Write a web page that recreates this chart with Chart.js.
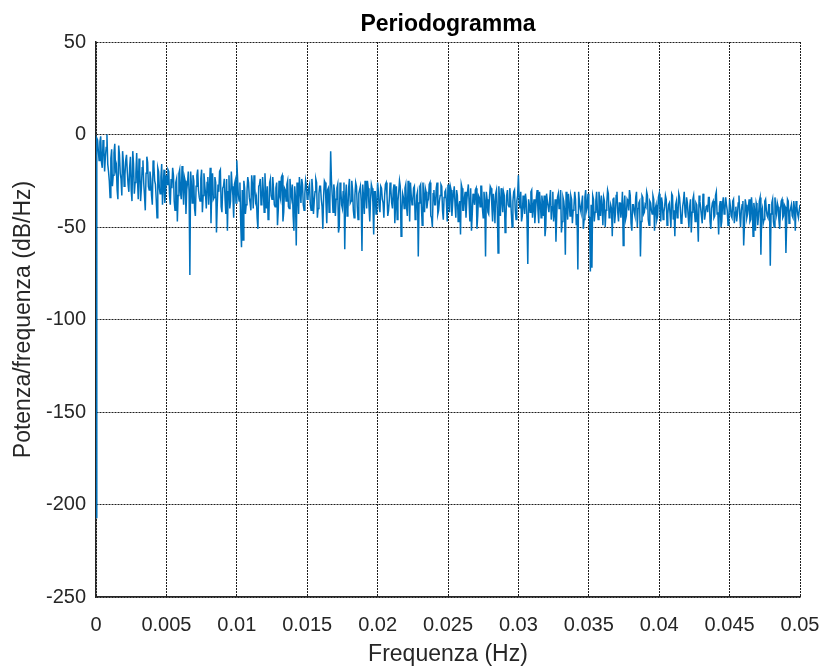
<!DOCTYPE html>
<html lang="it">
<head>
<meta charset="UTF-8">
<title>Periodogramma</title>
<style>
  html, body { margin: 0; padding: 0; background: #fff; }
  #chart { display: block; }
</style>
</head>
<body>
<canvas id="chart" width="822" height="668"></canvas>
<script src="https://cdn.jsdelivr.net/npm/chart.js"></script>
<script>
// frequency bin width (Hz); bin k is at k * df
const df = 0.05 / 900

// power spectral density (dB/Hz), one block per 0.005 Hz
// even bins (0, 2, 4, ...)
const psd0 = [-207, -3, -14, -1, -18, -6, -12, 0, -20, -34, -8, -22, -5, -17, -35, -11, -24, -9, -28, -14, -20, -31, -12, -36, -16, -26, -10, -35, -19, -29, -14, -33, -21, -15, -30, -24, -38, -17, -27, -45, -20, -32, -16, -28, -37, -22]
const psd1 = [-19, -33, -24, -18, -36, -26, -47, -21, -31, -17, -38, -25, -30, -20, -76, -27, -22, -40, -28, -19, -34, -24, -42, -21, -32, -26, -38, -18, -30, -35, -23, -53, -27, -20, -39, -29, -24, -43, -52, -22, -36, -28, -45, -25, -14]
const psd2 = [-33, -26, -61, -57, -29, -38, -23, -34, -41, -27, -22, -36, -45, -28, -24, -37, -31, -21, -40, -46, -26, -33, -23, -38, -29, -49, -25, -35, -22, -42, -30, -27, -39, -24, -34, -44, -28, -60, -32, -23, -37, -27, -41, -25, -35]
const psd3 = [-29, -38, -24, -43, -31, -26, -40, -28, -35, -51, -25, -37, -30, -42, -9, -33, -27, -44, -29, -53, -26, -38, -31, -62, -27, -41, -24, -36, -30, -45, -26, -39, -32, -28, -63, -34, -25, -40, -29, -47, -27, -37, -31, -43, -26]
const psd4 = [-39, -28, -35, -45, -27, -33, -41, -26, -37, -30, -48, -28, -36, -25, -55, -32, -40, -27, -44, -31, -26, -38, -29, -46, -33, -66, -28, -39, -26, -42, -31, -36, -27, -44, -50, -30, -38, -26, -41, -33, -28, -46, -31, -37, -27]
const psd5 = [-42, -30, -37, -28, -45, -33, -39, -54, -29, -41, -31, -36, -27, -47, -52, -32, -38, -29, -44, -34, -28, -40, -31, -66, -35, -43, -28, -38, -32, -48, -30, -64, -36, -29, -42, -33, -46, -30, -39, -34, -50, -31, -41, -36, -22]
const psd6 = [-40, -47, -33, -43, -36, -70, -38, -31, -45, -35, -41, -30, -48, -37, -33, -44, -55, -32, -39, -35, -46, -31, -42, -58, -34, -40, -30, -47, -36, -65, -38, -32, -44, -35, -41, -31, -49, -73, -36, -42, -33, -46, -30, -39, -44]
const psd7 = [-74, -72, -35, -42, -31, -46, -37, -33, -49, -36, -41, -30, -45, -38, -55, -34, -43, -31, -47, -37, -40, -60, -33, -44, -36, -30, -48, -38, -42, -34, -50, -37, -66, -33, -43, -38, -31, -46, -36, -41, -33, -52, -38, -44, -32]
const psd8 = [-47, -37, -42, -33, -49, -38, -44, -32, -46, -55, -36, -43, -34, -48, -39, -31, -45, -37, -50, -35, -42, -33, -47, -38, -58, -36, -44, -32, -46, -39, -42, -34, -51, -37, -45, -33, -43, -54, -36, -47, -34, -41, -38, -49, -35]
const psd9 = [-44, -36, -48, -39, -43, -33, -50, -38, -60, -35, -45, -39, -47, -34, -55, -41, -37, -49, -36, -65, -40, -46, -35, -44, -38, -71, -37, -47, -34, -43, -39, -51, -36, -45, -38, -64, -35, -48, -40, -44, -36, -52, -39, -45, -38]
// odd bins (1, 3, 5, ...)
const odd0 = [-2, -9, -4, -15, -3, -20, -7, -16, -25, -13, -28, -10, -19, -30, -6, -21, -33, -15, -22, -11, -27, -18, -30, -9, -32, -21, -24, -13, -36, -18, -26, -41, -12, -28, -20, -33, -14, -25, -35, -18, -29, -23, -38, -19, -31]
const odd1 = [-27, -20, -38, -29, -22, -41, -24, -33, -19, -35, -28, -23, -43, -26, -31, -20, -37, -25, -44, -22, -30, -36, -19, -33, -27, -40, -23, -29, -48, -21, -34, -26, -38, -31, -19, -42, -28, -35, -24, -31, -40, -20, -33, -27, -37]
const odd2 = [-24, -36, -48, -30, -25, -43, -31, -26, -37, -22, -40, -29, -34, -51, -27, -38, -23, -42, -32, -28, -45, -24, -35, -30, -39, -26, -41, -33, -23, -47, -29, -36, -25, -40, -31, -27, -52, -34, -26, -43, -30, -24, -38, -32, -28]
const odd3 = [-34, -27, -41, -30, -36, -24, -45, -32, -28, -39, -33, -26, -48, -29, -37, -25, -42, -31, -35, -27, -50, -30, -40, -26, -34, -44, -29, -37, -25, -41, -33, -28, -46, -30, -36, -27, -43, -32, -25, -39, -35, -29, -54, -31, -38]
const odd4 = [-31, -42, -29, -37, -33, -26, -44, -35, -30, -40, -27, -38, -46, -31, -28, -42, -34, -29, -39, -25, -47, -33, -36, -28, -43, -31, -37, -27, -49, -33, -29, -40, -35, -26, -45, -32, -38, -29, -43, -36, -27, -41, -34, -30, -47]
const odd5 = [-35, -28, -44, -32, -38, -30, -47, -36, -27, -41, -34, -45, -31, -37, -29, -43, -35, -30, -51, -33, -39, -28, -45, -36, -31, -42, -34, -29, -47, -37, -32, -40, -28, -44, -35, -31, -53, -33, -38, -29, -43, -36, -30, -46, -33]
const odd6 = [-36, -31, -44, -38, -32, -46, -35, -42, -30, -39, -48, -34, -41, -31, -45, -37, -33, -50, -36, -42, -30, -39, -47, -35, -43, -32, -38, -53, -34, -41, -31, -46, -37, -33, -48, -39, -35, -43, -31, -40, -37, -51, -34, -41, -32]
const odd7 = [-45, -38, -33, -47, -36, -41, -31, -44, -39, -34, -50, -37, -32, -43, -40, -35, -48, -33, -42, -37, -45, -31, -39, -46, -35, -41, -33, -52, -38, -44, -31, -40, -36, -47, -34, -42, -39, -33, -49, -37, -43, -35, -40, -46, -34]
const odd8 = [-41, -34, -46, -39, -35, -43, -37, -50, -33, -41, -38, -45, -32, -40, -47, -36, -42, -34, -44, -39, -53, -35, -41, -37, -46, -33, -40, -48, -36, -43, -38, -34, -47, -40, -36, -44, -31, -42, -39, -50, -37, -43, -34, -41, -46]
const odd9 = [-39, -45, -35, -42, -47, -37, -44, -41, -36, -49, -38, -43, -35, -46, -40, -37, -52, -39, -44, -34, -42, -48, -36, -41, -45, -38, -43, -35, -50, -40, -37, -46, -41, -35, -44, -39, -47, -36, -42, -38, -45, -40, -36, -43, -41]

const evenBins = [].concat(psd0, psd1, psd2, psd3, psd4, psd5, psd6, psd7, psd8, psd9)
const oddBins = [].concat(odd0, odd1, odd2, odd3, odd4, odd5, odd6, odd7, odd8, odd9)

const points = []
evenBins.forEach((v, i) => {
  points.push({ x: 2 * i * df, y: v })
  if (i < oddBins.length) points.push({ x: (2 * i + 1) * df, y: oddBins[i] })
})

const FONT = '"Liberation Sans", Arial, Helvetica, sans-serif'
const INK = '#262626'

const titlePlugin = {
  id: 'matlabTitle',
  afterDraw(chart) {
    const { ctx, chartArea } = chart
    ctx.save()
    ctx.fillStyle = '#000'
    ctx.font = 'bold 23px ' + FONT
    ctx.textAlign = 'center'
    ctx.textBaseline = 'alphabetic'
    ctx.fillText('Periodogramma', (chartArea.left + chartArea.right) / 2, 31)
    ctx.restore()
  }
}

new Chart(document.getElementById('chart'), {
  type: 'line',
  data: {
    datasets: [{
      data: points,
      borderColor: '#0072BD',
      borderWidth: 1.5,
      pointRadius: 0,
      tension: 0,
      fill: false
    }]
  },
  options: {
    responsive: false,
    animation: false,
    events: [],
    layout: { padding: { top: 42, right: 22, bottom: 0, left: 0 } },
    plugins: { legend: { display: false }, tooltip: { enabled: false } },
    scales: {
      x: {
        type: 'linear',
        min: 0,
        max: 0.05,
        afterFit: (s) => { s.height = 71; s.paddingRight = 0; s.paddingLeft = 0 },
        ticks: {
          stepSize: 0.005,
          color: INK,
          font: { family: FONT, size: 20 },
          padding: 16,
          maxRotation: 0,
          callback: (v) => String(Number(v.toFixed(3)))
        },
        grid: { color: '#1e1e1e', lineWidth: 1, drawTicks: false },
        border: { display: true, color: INK, width: 1.5, dash: [2, 1] },
        title: {
          display: true,
          text: 'Frequenza (Hz)',
          color: INK,
          font: { family: FONT, size: 23 },
          padding: { top: 10, bottom: 0 }
        }
      },
      y: {
        min: -250,
        max: 50,
        afterFit: (s) => { s.width = 96 },
        ticks: {
          stepSize: 50,
          color: INK,
          font: { family: FONT, size: 20 },
          padding: 10,
          callback: (v) => String(v)
        },
        grid: { color: '#1e1e1e', lineWidth: 1, drawTicks: false },
        border: { display: true, color: INK, width: 1.5, dash: [2, 1] },
        title: {
          display: true,
          text: 'Potenza/frequenza (dB/Hz)',
          color: INK,
          font: { family: FONT, size: 23 },
          padding: { top: 10, bottom: 0 }
        }
      }
    }
  },
  plugins: [titlePlugin]
})
</script>
</body>
</html>
